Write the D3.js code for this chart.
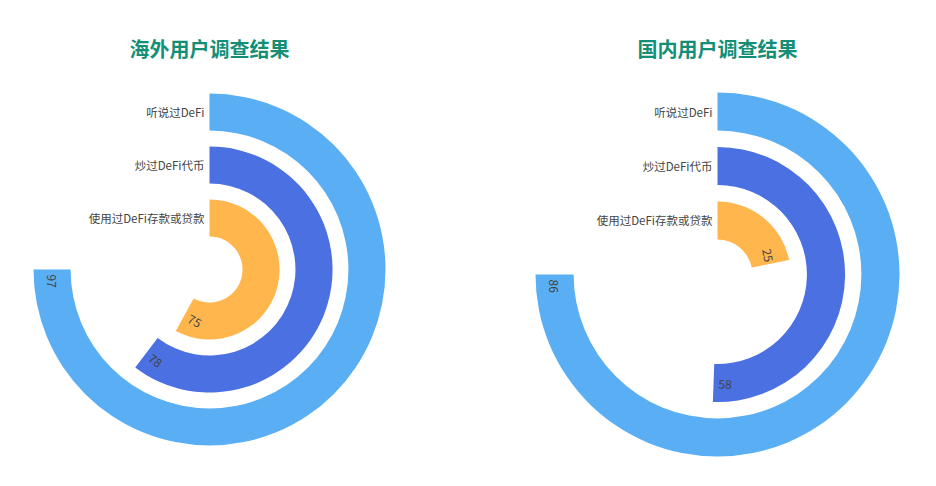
<!DOCTYPE html>
<html>
<head>
<meta charset="utf-8">
<script src="https://cdn.jsdelivr.net/npm/d3@7"></script>
<style>
  body { margin: 0; background: #fff; }
  svg { display: block; font-family: "Noto Sans CJK SC", "Noto Sans", sans-serif; }
</style>
</head>
<body>
<svg id="chart" width="936" height="486"></svg>
<script>
const categories = ["听说过DeFi", "炒过DeFi代币", "使用过DeFi存款或贷款"];
const overseasValues = [97, 78, 75];
const domesticValues = [86, 58, 25];
const titles = ["海外用户调查结果", "国内用户调查结果"];
const colors = ["#5aaef3", "#4a70e1", "#ffb64d"];

// one panel per survey: centre, inner hole and outer radius
const panels = [
    {title: titles[0], values: overseasValues, cx: 209.5, cy: 269.5, r0: 33, r1: 176},
    {title: titles[1], values: domesticValues, cx: 717.5, cy: 274.5, r0: 35, r1: 182}
];

const svg = d3.select("#chart");

panels.forEach(p => {
    const g = svg.append("g")
        .attr("transform", `translate(${p.cx},${p.cy})`);

    // largest value spans three quarters of the circle
    const maxVal = d3.max(p.values);
    const angle = d3.scaleLinear()
        .domain([0, maxVal * 4 / 3])
        .range([0, 2 * Math.PI]);

    // first category is the outer ring
    const radius = d3.scaleBand()
        .domain(categories.slice().reverse())
        .range([p.r0, p.r1])
        .paddingInner(0.3)
        .paddingOuter(0);

    const rows = categories.map((c, i) => ({cat: c, value: p.values[i], color: colors[i]}));

    const arc = d3.arc()
        .innerRadius(d => radius(d.cat))
        .outerRadius(d => radius(d.cat) + radius.bandwidth())
        .startAngle(0)
        .endAngle(d => angle(d.value));

    g.selectAll("path.bar")
        .data(rows)
        .enter()
        .append("path")
        .attr("class", "bar")
        .attr("d", arc)
        .attr("fill", d => d.color);

    // category labels to the left of the ring starts
    g.selectAll("text.cat")
        .data(rows)
        .enter()
        .append("text")
        .attr("class", "cat")
        .attr("x", -5)
        .attr("y", d => -(radius(d.cat) + radius.bandwidth() / 2))
        .attr("text-anchor", "end")
        .attr("dominant-baseline", "central")
        .attr("font-size", "11.5px")
        .attr("fill", "#444")
        .text(d => d.cat);

    // value labels, tangential at the end of each bar
    g.selectAll("text.val")
        .data(rows)
        .enter()
        .append("text")
        .attr("class", "val")
        .attr("font-size", "12px")
        .attr("fill", "#444")
        .attr("dominant-baseline", "central")
        .each(function (d) {
            const rm = radius(d.cat) + radius.bandwidth() / 2;
            const th = angle(d.value);
            let rot = th * 180 / Math.PI - 180;
            if (rot > 90) rot -= 180;
            if (rot <= -90) rot += 180;
            const rr = rot * Math.PI / 180;
            // does the text read back toward the start of the bar?
            const back = Math.cos(rr) * -Math.cos(th) + Math.sin(rr) * -Math.sin(th) > 0;
            const off = back ? 5 : 2;
            const a = th - off / rm;
            const x = rm * Math.sin(a);
            const y = -rm * Math.cos(a);
            d3.select(this)
                .attr("text-anchor", back ? "start" : "end")
                .attr("transform", `translate(${x},${y}) rotate(${rot})`)
                .text(d.value);
        });

    svg.append("text")
        .attr("x", p.cx)
        .attr("y", 48)
        .attr("text-anchor", "middle")
        .attr("dominant-baseline", "central")
        .attr("font-size", "20px")
        .attr("font-weight", "bold")
        .attr("fill", "#128f76")
        .text(p.title);
});
</script>
</body>
</html>
